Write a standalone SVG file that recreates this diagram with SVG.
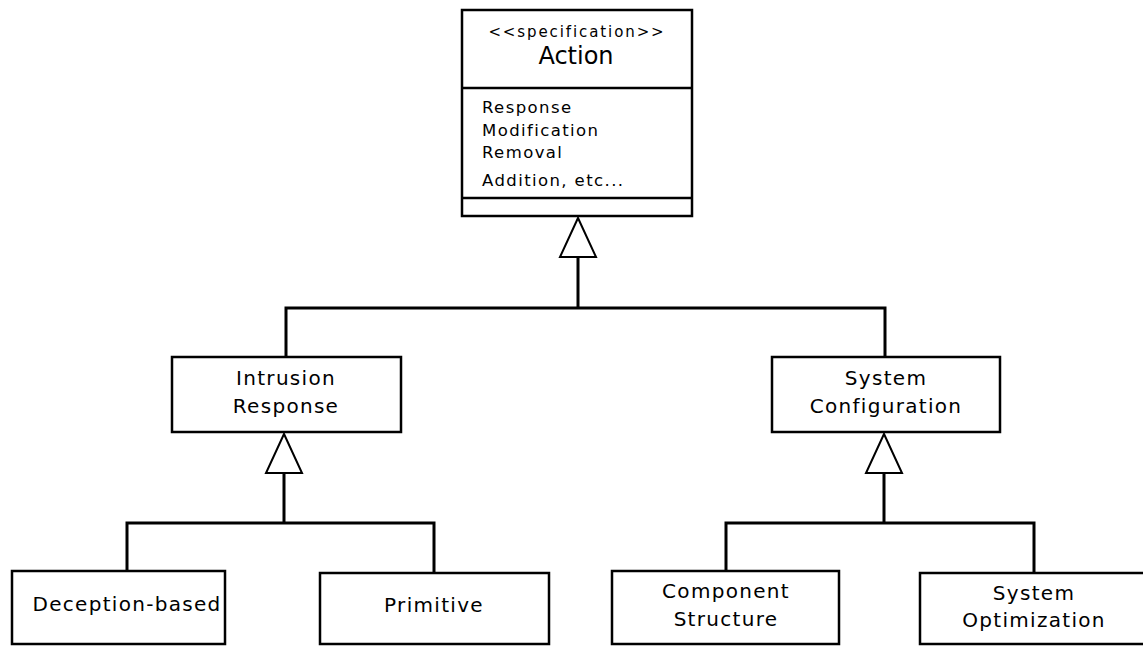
<svg xmlns="http://www.w3.org/2000/svg" width="1143" height="646" viewBox="0 0 1143 646">
  <style>
    .box { fill: #fff; stroke: #000; stroke-width: 2.5; }
    .line { fill: none; stroke: #000; stroke-width: 3; }
    .tri { fill: #fff; stroke: #000; stroke-width: 2; stroke-linejoin: miter; }
    .sep { stroke: #000; stroke-width: 2.5; }
    text { font-family: "DejaVu Sans", Verdana, sans-serif; fill: #000; }
    .name { font-size: 20px; text-anchor: middle; letter-spacing: 1.3px; }
    .big { font-size: 24px; text-anchor: middle; }
    .stereo { font-size: 15px; text-anchor: middle; letter-spacing: 1.9px; }
    .attr { font-size: 16.5px; letter-spacing: 1.4px; }
  </style>
  <rect width="1143" height="646" fill="#fff"/>

  <!-- generalization connectors -->
  <g id="connectors">
    <!-- Action children -->
    <path class="line" d="M578 257 V308 M286 356 V308 H885 V356"/>
    <polygon class="tri" points="578,218 560,257 596,257"/>
    <!-- Intrusion Response children -->
    <path class="line" d="M284 473 V523 M127 570 V523 H434 V572"/>
    <polygon class="tri" points="284,434 266,473 302,473"/>
    <!-- System Configuration children -->
    <path class="line" d="M884 473 V523 M726 570 V523 H1034 V572"/>
    <polygon class="tri" points="884,434 866,473 902,473"/>
  </g>

  <g id="action">
    <rect class="box" x="462" y="10" width="230" height="206"/>
    <line class="sep" x1="462" y1="88" x2="692" y2="88"/>
    <line class="sep" x1="462" y1="198" x2="692" y2="198"/>
    <text class="stereo" x="577" y="37">&lt;&lt;specification&gt;&gt;</text>
    <text class="big" x="576" y="64">Action</text>
    <text class="attr" x="482" y="113">Response</text>
    <text class="attr" x="482" y="136">Modification</text>
    <text class="attr" x="482" y="158">Removal</text>
    <text class="attr" x="482" y="186">Addition, etc...</text>
  </g>

  <g id="intrusion-response">
    <rect class="box" x="172" y="357" width="229" height="75"/>
    <text class="name" x="286" y="385">Intrusion</text>
    <text class="name" x="286" y="413">Response</text>
  </g>

  <g id="system-configuration">
    <rect class="box" x="772" y="357" width="228" height="75"/>
    <text class="name" x="886" y="385">System</text>
    <text class="name" x="886" y="413">Configuration</text>
  </g>

  <g id="deception-based">
    <rect class="box" x="12" y="571" width="213" height="73"/>
    <text class="name" x="127" y="611">Deception-based</text>
  </g>

  <g id="primitive">
    <rect class="box" x="320" y="573" width="229" height="71"/>
    <text class="name" x="434" y="612">Primitive</text>
  </g>

  <g id="component-structure">
    <rect class="box" x="612" y="571" width="227" height="73"/>
    <text class="name" x="726" y="598">Component</text>
    <text class="name" x="726" y="626">Structure</text>
  </g>

  <g id="system-optimization">
    <rect class="box" x="920" y="573" width="228" height="71"/>
    <text class="name" x="1034" y="600">System</text>
    <text class="name" x="1034" y="627">Optimization</text>
  </g>
</svg>
